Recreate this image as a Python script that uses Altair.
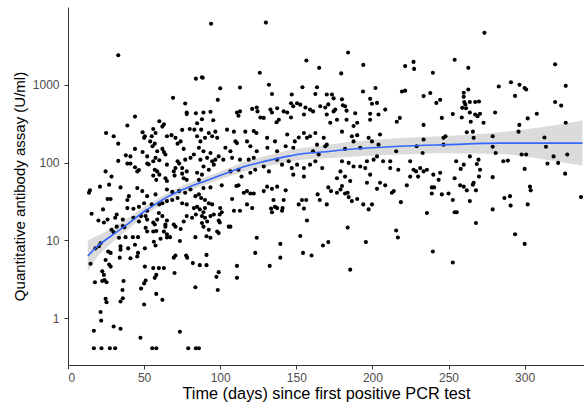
import altair as alt
import pandas as pd

# ---- scatter data (days since first positive PCR, antibody U/ml) ----
days = [
    33, 84, 69, 77, 78, 78, 84, 44, 39, 60, 63, 62, 25, 30, 33, 49, 50.5, 50, 56, 57.5, 55, 54, 57, 55.5, 65, 68, 70.6, 75, 80, 83,
    74, 72, 76, 44, 49, 62, 63, 64, 58.6, 57.5, 60, 52, 33, 38, 41, 39, 41, 44, 45.5, 46.6, 52, 53, 56, 57, 58.6, 65, 72, 73, 70.6, 77,
    75, 78, 80.5, 82.7, 24.7, 28.6, 56, 60, 58, 64, 65, 75, 76, 78, 69.5, 70,
    14.4, 13.8, 26, 28, 40, 39, 23, 15.5, 20, 23.6, 26, 28.6, 30, 32, 36, 37, 33.5, 34.5, 21.4, 20.3, 18, 14.8, 26.4, 28, 22.5, 23.6,
    24, 25.3, 22.5, 17.7, 24.7, 25.3, 21.4, 21.8, 17, 30, 34.5, 17, 22, 27.5, 31, 55.3, 58, 79, 84, 47.6, 73.5, 50, 62, 58, 34.5, 36,
    35.8, 36.5, 50, 51, 48, 56, 59.7, 63, 58, 57, 70, 50.5, 45.5, 46, 41, 34, 27, 28, 24.7, 34.5, 39.5, 50.5, 44, 56.4, 57.5, 70.6,
    69.5, 77.6, 78.3, 82, 83.7, 60.8, 65, 73.5, 83.7, 42.6, 46, 37.8, 51, 52, 56, 58, 57, 56, 63, 65, 64, 67, 43, 46.6, 48, 51, 52,
    59.7, 62, 58.6, 64, 65, 69.5, 70.6, 74, 76, 78, 81.5, 84, 39, 43, 46.6, 52, 55, 50, 60, 62, 65, 68.5, 72, 75, 78, 82.7, 32, 31, 36,
    73, 77, 80.5, 83.7, 45.5, 48.8, 52, 57.5, 65, 68.5, 21, 27, 34.5,
    89, 93.6, 101, 110.6, 112, 117.6, 119.8, 115.5, 122, 128.6, 130.8, 134, 137.4, 143, 86, 87.5, 90, 92.5, 94.7, 84.8, 86.6, 90, 89,
    88, 93.6, 95.8, 99.7, 101, 100, 90, 91.4, 88, 89, 92.5, 91, 93.6, 99, 99.7, 98, 99, 106.7, 107.8, 109, 113, 117.6, 121, 135, 136,
    133.4, 137.4, 140.6, 141.7, 134, 141, 151.6, 153.7, 156.5, 155, 157, 152.6, 154.4, 160, 164, 165.4, 167.5, 124, 123, 139.5, 139.5,
    132.5, 111, 111, 99, 97.5, 98.4, 91, 91, 86.6, 105.6, 86,
    94, 130, 156.6, 165, 126, 88, 88.5, 100, 113, 132, 134, 147, 154, 162.5, 163.6, 98.4, 89, 93.6, 88, 95.4, 87.5, 84.8, 111, 113, 112,
    121, 124, 124.5, 126.4, 128.6, 133, 134, 137.4, 138.5, 137, 141.7, 144, 146.5, 148, 150.5, 152.6, 156, 159, 155, 161, 165.7, 169,
    146.5, 84.8, 87, 90, 92.5, 94.7, 96.8, 98, 86, 89, 93.6, 87, 91.4, 94.7, 96.8, 89, 92.5, 95.8, 84.8, 88, 86, 104.5, 109, 110, 111,
    116.5, 117.6, 122, 123.8, 119.8, 103.4, 106.7, 99, 102, 107.8, 113, 118.7, 122, 124, 130.8, 131, 136, 137.4, 144, 143, 149, 151.6,
    148, 155, 157, 159, 162.5, 163.6, 168, 169, 161, 164.7, 106.7, 112, 114, 119.8, 123, 128.6, 132, 137.4, 140.6, 145, 147, 150.5,
    155, 159, 162.5, 167, 148, 155,
    184, 194, 179.5, 221.5, 227, 227.4, 239.7, 254, 193.8, 202, 198.5, 199.7, 203, 208.4, 198.5, 204, 198.5, 170, 173.4, 174.5, 171,
    175.6, 174.5, 180, 182, 183, 180.6, 170, 172.3, 176.7, 183, 180, 187.6, 190, 188.7, 186.5, 190, 187.6, 197.5, 199.7, 205, 216, 218,
    221.5, 219.4, 233.6, 238, 242, 244.5, 245.6, 252.8, 233.6, 246.7, 248, 233.6, 170, 182, 192, 204, 215.6, 229, 233, 246.7, 255, 180,
    184.4, 187.6, 179, 182, 192, 196.4, 200.8, 203, 195.3, 198.5, 207, 211.7, 211.7, 217, 224.8, 227, 228.7, 231.4, 233.6, 224.8, 230,
    235.8, 240, 244.5, 243.5, 254, 176.7, 185.4, 196.4, 205,
    171, 172.8, 176.7, 179, 180, 182, 183.7, 184.4, 186.5, 190, 194, 197.5, 199.7, 203, 208.4, 212.8, 214, 218.7, 222.6, 235.8, 239,
    240.5, 239, 245.6, 250, 252.8, 254, 170, 183.7, 171, 195.7, 215.6, 216.7, 185.4, 239.7, 252.8,
    273.6, 320, 263, 283, 291, 296.6, 300, 301, 293.7, 327, 263, 260, 260, 260.3, 264, 267.5, 270, 261, 259, 261.5, 264, 267.5, 269,
    270.7, 258.7, 264.6, 273, 280.6, 320, 324, 308, 302, 296.5, 296, 327, 266, 262, 266.5, 279, 279, 281, 313, 314, 319, 328, 298, 301,
    286, 289, 269.7, 270.7, 268.6, 264, 260, 258, 270, 279, 300, 315, 322, 326.6, 266.5,
    257.6, 260, 262, 268, 264, 255.4, 268, 279, 286.7, 290.4, 290.8, 293.7, 300, 302, 303.5, 304, 337, 266,
]
values = [
    2400, 1200, 680, 575, 440, 420, 430, 390, 300, 340, 310, 290, 240, 218, 175, 245, 218, 208, 270, 240, 218, 187, 175, 162, 218, 225,
    208, 263, 270, 265, 187, 175, 150, 150, 137, 150, 137, 127, 140, 115, 107, 120, 105, 124, 120, 97, 97, 87, 77, 80, 97, 95, 104, 81,
    77, 94, 104, 97, 85, 109, 85, 77, 115, 127, 77, 66, 68, 70, 60, 63, 58, 72, 63, 60, 77, 68,
    44, 41, 34, 34, 37, 33, 25, 22, 18, 17, 18.5, 13.7, 12.7, 15, 15.3, 14.8, 10.8, 8.4, 9.2, 8.4, 7.9, 5.0, 7.2, 6.9, 4.0, 3.6, 3.1,
    2.9, 3.0, 2.9, 1.77, 1.6, 1.2, 0.93, 0.69, 0.78, 0.73, 0.41, 0.41, 0.41, 0.41, 0.41, 0.41, 0.41, 0.41, 0.56, 0.67, 1.5, 1.72,
    2.05, 1.64, 1.8, 2.3, 3.0, 2.8, 3.05, 2.4, 4.4, 4.4, 4.4, 3.6, 3.3, 3.8, 4.6, 6.2, 6.9, 5.9, 6.0, 4.9, 4.6, 5.6, 7.6, 7.9, 7.9,
    8.8, 9.6, 8.6, 6.4, 6.0, 6.4, 6.0, 5.1, 2.5, 10.5, 10.9, 9.8, 11, 11, 11, 11, 14.5, 13, 13, 13.2, 16, 17, 13, 12, 15, 11, 19.5,
    17.5, 20.5, 20.5, 18.5, 22.5, 20.5, 18.5, 16, 18, 16, 15, 14, 17.5, 20.5, 19.5, 21.5, 26, 25.5, 27, 24, 29, 30, 29, 30, 32, 33, 35,
    30, 29, 26, 21.5, 19.5, 18.5, 43, 41, 45, 37, 47, 43, 37, 39, 45, 42, 49, 52, 48,
    47, 48, 51, 50, 51, 43, 40, 41, 40, 43, 49, 46, 49, 44, 39, 35, 33, 30, 29, 27, 25, 26, 23, 20.5, 20.5, 21.5, 21.5, 23, 26, 19.5,
    17.5, 16.7, 15, 13.7, 11.3, 10.8, 18, 17, 13, 12.4, 15, 34, 24, 24, 29, 26, 33, 27, 25.6, 26, 24, 33, 23, 26, 29, 33, 33, 25.6,
    18, 11.4, 6.9, 6.4, 39, 33, 8.6, 10.8, 6.9, 9, 6.0, 4.7, 4.7, 3.3, 3.9, 3.4, 2.3, 6.5, 4.8, 4.8, 15, 0.41,
    6100, 6300, 2050, 1650, 1430, 1250, 1230, 900, 920, 1000, 760, 750, 930, 760, 930, 640, 440, 450, 360, 350, 265, 320, 440, 455,
    400, 490, 510, 455, 380, 375, 480, 440, 500, 355, 330, 455, 440, 580, 530, 580, 555, 510, 480, 415, 455, 530, 510, 380, 218, 187,
    208, 240, 218, 250, 208, 155, 140, 133, 109, 115, 104, 109, 89, 81, 94, 74, 70, 60, 265, 250, 187, 178, 250, 187, 255, 240, 162,
    155, 140, 120, 109, 115, 109, 109, 115, 140, 208, 155, 187, 140, 230, 162, 187, 210, 155, 240, 208, 218, 240, 170, 208, 162, 140,
    127, 77, 81, 66, 74, 81, 89, 77, 109, 94, 104, 85, 94, 85, 94, 104, 85, 70, 66,
    2600, 1800, 1400, 1740, 1970, 1600, 1430, 2100, 820, 910, 660, 570, 585, 480, 425, 415, 355, 750, 750, 670, 560, 480, 455, 650,
    530, 465, 545, 415, 325, 355, 355, 250, 295, 325, 430, 218, 225, 187, 208, 187, 230, 335, 375, 840, 820, 715, 785, 585, 640, 375,
    420, 305, 208, 218, 198, 170, 150, 155, 170, 140, 162, 133, 170, 104, 104, 99, 89, 77, 66, 89, 104, 109, 120, 85, 70, 104, 104, 85,
    81, 104, 81, 77, 85, 77, 66, 66, 81, 70, 74, 60, 63, 63, 58, 55, 55,
    48, 43, 41, 45, 50, 40, 41, 36, 32, 34, 29, 25, 29, 46, 51, 41, 43, 31, 51, 22.5, 48, 48, 40, 39, 40, 33, 23, 29, 14.6, 9.5, 9.5,
    13.4, 10.9, 4.2, 7.2, 5.2,
    4650, 1830, 1650, 950, 1080, 1000, 910, 870, 720, 970, 870, 790, 700, 600, 600, 600, 610, 560, 505, 500, 440, 415, 395, 425, 380,
    335, 325, 440, 600, 540, 425, 370, 305, 250, 325, 250, 245, 208, 218, 160, 133, 210, 160, 120, 127, 127, 127, 104, 106, 109, 81, 96,
    120, 94, 83, 66, 65, 83, 97, 99, 72, 55,
    51, 49, 44, 44, 32, 23, 16.7, 25, 35, 37, 28, 12, 9, 29, 49, 44, 36, 52,
]

# ---- smoothed fit with confidence band ----
fit_days = [13, 20, 28, 36, 43, 50, 58, 65, 72, 80, 88, 98, 108, 116, 125, 135, 145, 153, 170, 183, 200, 218, 249, 284, 310, 338]
fit_vals = [6.3, 8.6, 11.3, 14.6, 18.5, 23.5, 29.5, 36, 42, 49, 56, 66, 78, 89, 99, 110, 121, 129, 138, 147, 155, 162, 170, 178,
            178, 178]
fit_lo = [3.97, 6.38, 9.08, 12.15, 15.74, 20.47, 25.99, 32.09, 37.43, 43.67, 49.91, 58.82, 68.72, 77.53, 85.27, 93.62, 101.8,
          108.5, 113.5, 118.1, 123.1, 127.2, 132, 129, 112.3, 91.3]
fit_hi = [9.99, 11.6, 14.07, 17.55, 21.74, 26.98, 33.48, 40.39, 47.12, 54.98, 62.83, 74.05, 88.53, 102.2, 114.9, 129.3, 143.9,
          153.4, 167.8, 183, 195.1, 206.4, 219, 245.6, 282.1, 347]

x_ticks = [0, 50, 100, 150, 200, 250, 300]
y_ticks = [1, 10, 100, 1000]

n = min(len(days), len(values))
pts = pd.DataFrame({"day": days[:n], "value": values[:n]})
fit = pd.DataFrame({"day": fit_days, "fit": fit_vals, "lo": fit_lo, "hi": fit_hi})

xs = alt.Scale(domain=[0, 339], nice=False, zero=False)
ys = alt.Scale(type="log", domain=[0.25, 10000], nice=False)

x_axis = alt.Axis(values=x_ticks, title="Time (days) since first positive PCR test", labelPadding=3,
                  titlePadding=2, titleFontSize=16.3)
y_axis = alt.Axis(values=y_ticks, format="d", title="Quantitative antibody assay (U/ml)", labelPadding=5,
                  titlePadding=5, titleFontSize=15)

band = alt.Chart(fit).mark_area(color="#999999", opacity=0.35, interpolate="monotone").encode(
    x=alt.X("day:Q", scale=xs, axis=x_axis),
    y=alt.Y("lo:Q", scale=ys, axis=y_axis),
    y2="hi:Q",
)
points = alt.Chart(pts).mark_circle(size=17, color="black", opacity=1).encode(
    x=alt.X("day:Q", scale=xs, axis=x_axis),
    y=alt.Y("value:Q", scale=ys, axis=y_axis),
)
line = alt.Chart(fit).mark_line(color="#3366FF", strokeWidth=1.6, interpolate="monotone").encode(
    x=alt.X("day:Q", scale=xs, axis=x_axis),
    y=alt.Y("fit:Q", scale=ys, axis=y_axis),
)

chart = alt.layer(band, points, line).properties(
    width=516, height=358,
    padding={"left": 68, "top": 7, "right": 0, "bottom": 44},
    autosize="none",
).configure_view(stroke=None).configure_axis(
    grid=False,
    domainColor="#333333",
    domainWidth=1,
    tickColor="#333333",
    tickSize=4,
    labelColor="#4D4D4D",
    labelFont="Liberation Sans",
    labelFontSize=12,
    titleFont="Liberation Sans",
    titleFontWeight="normal",
    titleColor="black",
)

chart.save("out.html", embed_options={"renderer": "svg", "actions": False})
